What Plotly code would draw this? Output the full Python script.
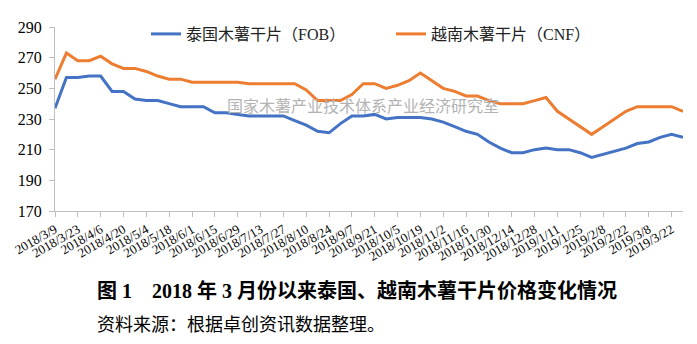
import plotly.graph_objects as go

dates = [
    "2018/3/9", "2018/3/16", "2018/3/23", "2018/3/30", "2018/4/6", "2018/4/13", "2018/4/20", "2018/4/27",
    "2018/5/4", "2018/5/11", "2018/5/18", "2018/5/25", "2018/6/1", "2018/6/8", "2018/6/15", "2018/6/22",
    "2018/6/29", "2018/7/6", "2018/7/13", "2018/7/20", "2018/7/27", "2018/8/3", "2018/8/10", "2018/8/17",
    "2018/8/24", "2018/8/31", "2018/9/7", "2018/9/14", "2018/9/21", "2018/9/28", "2018/10/5", "2018/10/12",
    "2018/10/19", "2018/10/26", "2018/11/2", "2018/11/9", "2018/11/16", "2018/11/23", "2018/11/30", "2018/12/7",
    "2018/12/14", "2018/12/21", "2018/12/28", "2019/1/4", "2019/1/11", "2019/1/18", "2019/1/25", "2019/2/1",
    "2019/2/8", "2019/2/15", "2019/2/22", "2019/3/1", "2019/3/8", "2019/3/15", "2019/3/22", "2019/3/29",
]

thai_fob = [
    237, 257, 257, 258, 258, 248, 248, 243, 242, 242, 240, 238, 238, 238, 234, 234,
    233, 232, 232, 232, 232, 229, 226, 222, 221, 227, 232, 232, 233, 230, 231, 231,
    231, 230, 228, 225, 222, 220, 215, 211, 208, 208, 210, 211, 210, 210, 208, 205,
    207, 209, 211, 214, 215, 218, 220, 218,
]

vietnam_cnf = [
    256, 273, 268, 268, 271, 266, 263, 263, 261, 258, 256, 256, 254, 254, 254, 254,
    254, 253, 253, 253, 253, 253, 249, 242, 242, 242, 246, 253, 253, 250, 252, 255,
    260, 255, 250, 248, 245, 245, 242, 240, 240, 240, 242, 244, 235, 230, 225, 220,
    225, 230, 235, 238, 238, 238, 238, 235,
]

tick_labels = dates[::2]
y_ticks = [170, 190, 210, 230, 250, 270, 290]

series_names = ["泰国木薯干片（FOB）", "越南木薯干片（CNF）"]
watermark = "国家木薯产业技术体系产业经济研究室"
caption = "图 1　2018 年 3 月份以来泰国、越南木薯干片价格变化情况"
source = "资料来源：根据卓创资讯数据整理。"

FONT = "Liberation Serif, Times New Roman, Noto Sans CJK SC, serif"

fig = go.Figure()
fig.add_trace(go.Scatter(x=dates, y=thai_fob, mode="lines", name=series_names[0],
                         line=dict(color="#4472C4", width=3), legend="legend"))
fig.add_trace(go.Scatter(x=dates, y=vietnam_cnf, mode="lines", name=series_names[1],
                         line=dict(color="#ED7D31", width=3), legend="legend2"))

W, H = 697, 344
L, R, T, B = 55, 14, 27, 133
ph = H - T - B

def ypx(p):
    return 1 - (p - T) / ph

def xpx(p):
    return (p - L) / (W - L - R)

fig.update_layout(
    width=W, height=H,
    margin=dict(l=L, r=R, t=T, b=B),
    paper_bgcolor="white", plot_bgcolor="white",
    font=dict(family=FONT, color="black"),
    showlegend=True,
    legend=dict(x=xpx(146), y=ypx(34), xanchor="left", yanchor="middle",
                orientation="h", font=dict(size=16, family=FONT, color="#222"),
                bgcolor="rgba(0,0,0,0)"),
    legend2=dict(x=xpx(391), y=ypx(34), xanchor="left", yanchor="middle",
                 orientation="h", font=dict(size=16, family=FONT, color="#222"),
                 bgcolor="rgba(0,0,0,0)"),
    xaxis=dict(
        type="category", categoryorder="array", categoryarray=dates,
        range=[0, len(dates) - 1],
        tickmode="array", tickvals=tick_labels, ticktext=tick_labels,
        tickangle=-30, tickfont=dict(size=13, family=FONT, color="black"),
        ticks="outside", ticklen=5, tickcolor="#bfbfbf",
        showline=True, linecolor="#bfbfbf", linewidth=1,
        showgrid=False, zeroline=False,
    ),
    yaxis=dict(
        range=[170, 290], tickmode="array", tickvals=y_ticks,
        tickfont=dict(size=16, family=FONT, color="black"),
        ticks="outside", ticklen=5, tickcolor="#bfbfbf", ticklabelstandoff=4,
        showline=True, linecolor="#bfbfbf", linewidth=1,
        showgrid=False, zeroline=False,
    ),
    annotations=[
        dict(text=watermark, xref="paper", yref="paper", x=xpx(363), y=ypx(105),
             xanchor="center", yanchor="middle", showarrow=False,
             font=dict(size=16, family="Noto Sans CJK SC", color="#b3b3b3")),
        dict(text="<b>" + caption + "</b>", xref="paper", yref="paper", x=xpx(95), y=ypx(290),
             xanchor="left", yanchor="middle", showarrow=False,
             font=dict(size=20, family=FONT, color="black")),
        dict(text=source, xref="paper", yref="paper", x=xpx(95), y=ypx(325),
             xanchor="left", yanchor="middle", showarrow=False,
             font=dict(size=18, family=FONT, color="black")),
    ],
)

fig.write_html("out.html")
